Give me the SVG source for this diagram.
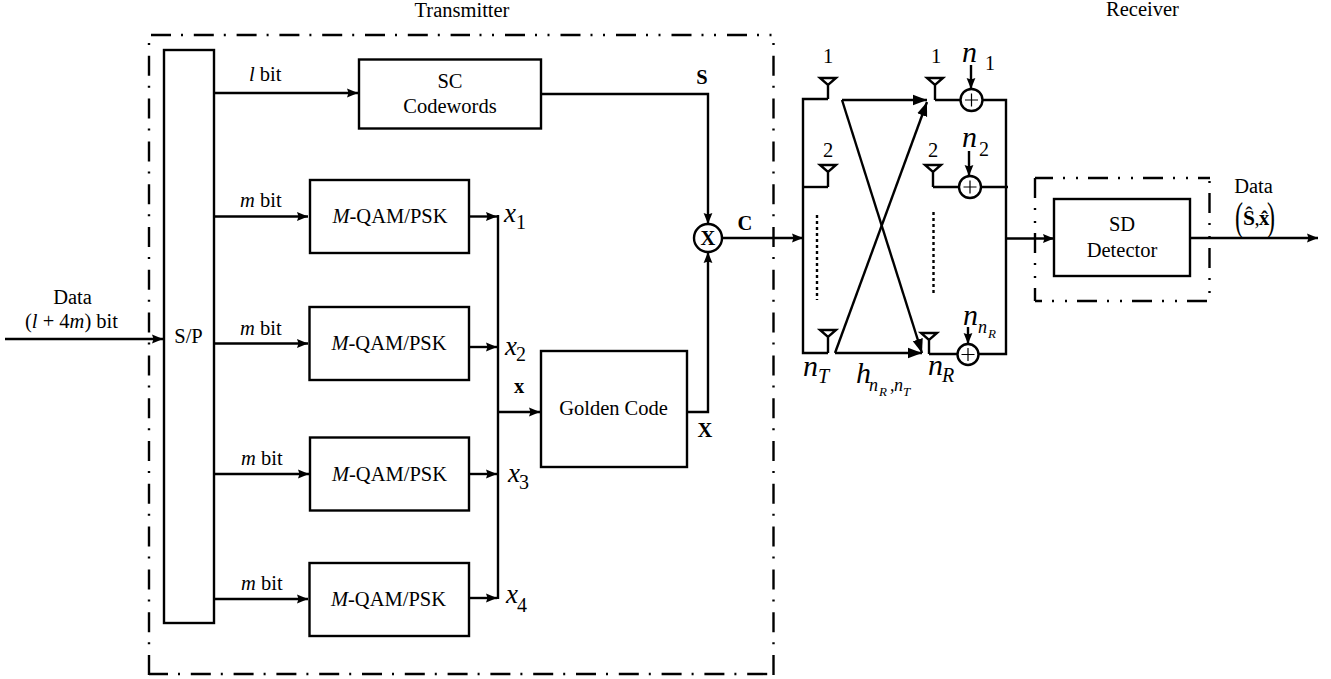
<svg xmlns="http://www.w3.org/2000/svg" width="1331" height="679" viewBox="0 0 1331 679">
<style>
text{font-family:"Liberation Serif","Times New Roman",serif;font-size:20.5px;fill:#000}
.c{text-anchor:middle}
.i{font-style:italic}
.b{font-weight:bold}
.big{font-size:30px;font-style:italic}
.mid{font-size:27px;font-style:italic}
.sub{font-size:20px}
.ss{font-size:18px;font-style:italic}
.sss{font-size:13px;font-style:italic}
.box{fill:#fff;stroke:#000;stroke-width:2.4}
.ln{fill:none;stroke:#000;stroke-width:2.4}
.a{marker-end:url(#ah)}
.A{marker-end:url(#AH)}
.outer{fill:none;stroke:#000;stroke-width:2.4;stroke-dasharray:20 10 2 10.8}
.outer2{fill:none;stroke:#000;stroke-width:2.4;stroke-dasharray:2 10.5 2 11 20 10}
.rec{fill:none;stroke:#000;stroke-width:2.4;stroke-dasharray:20 10 2 11 2 10}
.dot{fill:none;stroke:#000;stroke-width:2.4;stroke-dasharray:3 3}
</style>
<defs>
<marker id="ah" markerUnits="userSpaceOnUse" markerWidth="12" markerHeight="10" refX="11" refY="5" orient="auto"><path d="M0 0.6L11 5L0 9.4L1.5 5Z" fill="#000"/></marker>
<marker id="AH" markerUnits="userSpaceOnUse" markerWidth="15" markerHeight="12" refX="14" refY="6" orient="auto"><path d="M0 0.8L14 6L0 11.2Z" fill="#000"/></marker>
</defs>
<rect width="1331" height="679" fill="#fff"/>

<g id="frames">
<path class="outer" d="M151 35H470"/>
<path class="outer2" d="M479.500 35H773"/>
<path class="outer" d="M149 35V675" stroke-dashoffset="22"/>
<path class="outer" d="M773.500 35V675" stroke-dashoffset="22"/>
<path class="outer" d="M149 674H773" stroke-dashoffset="1"/>
<path class="rec" d="M1035 178H1210" stroke-dashoffset="2"/>
<path class="rec" d="M1035 178V301"/>
<path class="rec" d="M1209.500 178V301" stroke-dashoffset="40"/>
<path class="rec" d="M1035 301H1209" stroke-dashoffset="13"/>
<text class="c" x="462" y="16.500">Transmitter</text>
<text class="c" x="1142.500" y="16">Receiver</text>
</g>

<g id="connectors">
<path class="ln a" d="M5 339H163"/>
<path class="ln a" d="M214 93H358"/>
<path class="ln a" d="M214 216.500H308"/>
<path class="ln a" d="M214 343.500H308"/>
<path class="ln a" d="M214 474H309"/>
<path class="ln a" d="M214 599H308"/>
<path class="ln a" d="M469 216.500H497"/>
<path class="ln a" d="M469 347H497"/>
<path class="ln a" d="M469 474H497"/>
<path class="ln a" d="M469 598H497"/>
<path class="ln" d="M498 215V599"/>
<path class="ln a" d="M498 412H540"/>
<path class="ln a" d="M541 94H708V224"/>
<path class="ln a" d="M687 412H708V252"/>
<path class="ln a" d="M722 238H803"/>
<path class="ln" d="M828 99H803V353H828"/>
<path class="ln" d="M803 187H828"/>
<path class="ln A" d="M842 100H927"/>
<path class="ln A" d="M842 100L922 353"/>
<path class="ln A" d="M835 353L927 102"/>
<path class="ln A" d="M835 353H922"/>
<path class="dot" d="M817 215V300"/>
<path class="dot" d="M933.500 212V296"/>
<path class="ln" d="M935 100H961M983 100H1006V354H979M933 187H959M981 187H1008M929 354H958"/>
<path class="ln a" d="M971 65V89"/>
<path class="ln a" d="M969 151V176"/>
<path class="ln a" d="M968 327V344"/>
<path class="ln a" d="M1006 238.500H1054"/>
<path class="ln a" d="M1190 238H1318"/>
</g>

<g id="sp"><rect class="box" x="164" y="50" width="50" height="573"/><text class="c" x="188.500" y="343">S/P</text></g>
<g id="sc"><rect class="box" x="359" y="59.500" width="182" height="69"/><text class="c" x="450" y="88">SC</text><text class="c" x="450" y="112.500">Codewords</text></g>
<g id="qam1"><rect class="box" x="310" y="180" width="159" height="73"/><text class="c" x="390" y="223"><tspan class="i">M</tspan>-QAM/PSK</text></g>
<g id="qam2"><rect class="box" x="309.500" y="307" width="159.500" height="73"/><text class="c" x="389" y="350"><tspan class="i">M</tspan>-QAM/PSK</text></g>
<g id="qam3"><rect class="box" x="310" y="437.500" width="159" height="73"/><text class="c" x="389.500" y="481"><tspan class="i">M</tspan>-QAM/PSK</text></g>
<g id="qam4"><rect class="box" x="309.500" y="563" width="159.500" height="73"/><text class="c" x="388.500" y="606"><tspan class="i">M</tspan>-QAM/PSK</text></g>
<g id="golden"><rect class="box" x="541" y="351" width="146" height="116"/><text class="c" x="613.500" y="415">Golden Code</text></g>
<g id="mult"><circle class="box" cx="708" cy="238" r="14"/><text class="c b" x="708" y="245">X</text></g>
<g id="sd"><rect class="box" x="1054" y="199" width="136" height="77"/><text class="c" x="1122" y="231">SD</text><text class="c" x="1122" y="257">Detector</text></g>

<g id="tx-ant">
<path class="ln" d="M820 78H836L828 85ZM828 85V99M820 165H836L828 172ZM828 172V187M820 330H836L828 337ZM828 337V353"/>
<text class="c" x="828" y="63">1</text><text class="c" x="828" y="157">2</text>
</g>
<g id="rx-ant">
<path class="ln" d="M927 78H943L935 85ZM935 85V100M925 165H941L933 172ZM933 172V187M921 333H937L929 340ZM929 340V354"/>
<text class="c" x="936" y="63">1</text><text class="c" x="933" y="157">2</text>
</g>
<g id="adders">
<circle class="box" cx="971.500" cy="100" r="11"/><path class="ln" style="stroke-width:1.2" d="M965 100H978M971.500 93.500V106.500"/>
<circle class="box" cx="970" cy="187" r="11"/><path class="ln" style="stroke-width:1.2" d="M963.500 187H976.500M970 180.500V193.500"/>
<circle class="box" cx="968" cy="354.500" r="10.500"/><path class="ln" style="stroke-width:1.2" d="M961.500 354.500H974.500M968 348V361"/>
</g>

<g id="labels">
<text class="c" x="72.500" y="304">Data</text>
<text x="25" y="328">(<tspan class="i">l</tspan> + 4<tspan class="i">m</tspan>) bit</text>
<text x="249" y="81"><tspan class="i">l</tspan> bit</text>
<text x="240" y="207"><tspan class="i">m</tspan> bit</text>
<text x="240" y="335"><tspan class="i">m</tspan> bit</text>
<text x="241" y="465"><tspan class="i">m</tspan> bit</text>
<text x="241" y="590"><tspan class="i">m</tspan> bit</text>
<text class="c b" x="702" y="84">S</text>
<text class="c b" x="519" y="393">x</text>
<text class="c b" x="705" y="437">X</text>
<text class="c b" x="745" y="230">C</text>
<text class="mid" x="504" y="222">x</text><text class="sub" x="516" y="229">1</text>
<text class="mid" x="505" y="355">x</text><text class="sub" x="516" y="361">2</text>
<text class="mid" x="508" y="482">x</text><text class="sub" x="519" y="489">3</text>
<text class="mid" x="506" y="603">x</text><text class="sub" x="517" y="612">4</text>
<text class="big" x="962" y="62">n</text><text class="sub" x="985" y="70">1</text>
<text class="big" x="962" y="147">n</text><text class="sub" x="979" y="156">2</text>
<text class="big" x="963" y="325">n</text><text class="ss" x="978" y="333">n</text><text class="sss" x="988" y="338">R</text>
<text class="big" x="803" y="376">n</text><text class="ss" x="818" y="383" style="font-size:20px">T</text>
<text class="big" x="928" y="375">n</text><text class="ss" x="942" y="382" style="font-size:20px">R</text>
<text class="big" x="856" y="383">h</text><text class="ss" x="869" y="391">n</text><text class="sss" x="879" y="396">R</text><text class="ss" x="890" y="391" style="font-style:normal">,</text><text class="ss" x="894" y="391">n</text><text class="sss" x="903" y="396">T</text>
<text class="c" x="1253.500" y="193">Data</text>
<text x="1235" y="230" style="font-size:40px" transform="translate(494 0) scale(0.6 1)">(</text>
<text class="b" x="1243" y="225" style="font-size:21.500px">Ŝ</text><text x="1254.500" y="225">,</text><text class="b" x="1259" y="225">x̂</text>
<text x="1267" y="230" style="font-size:40px" transform="translate(506.800 0) scale(0.6 1)">)</text>
</g>
</svg>
